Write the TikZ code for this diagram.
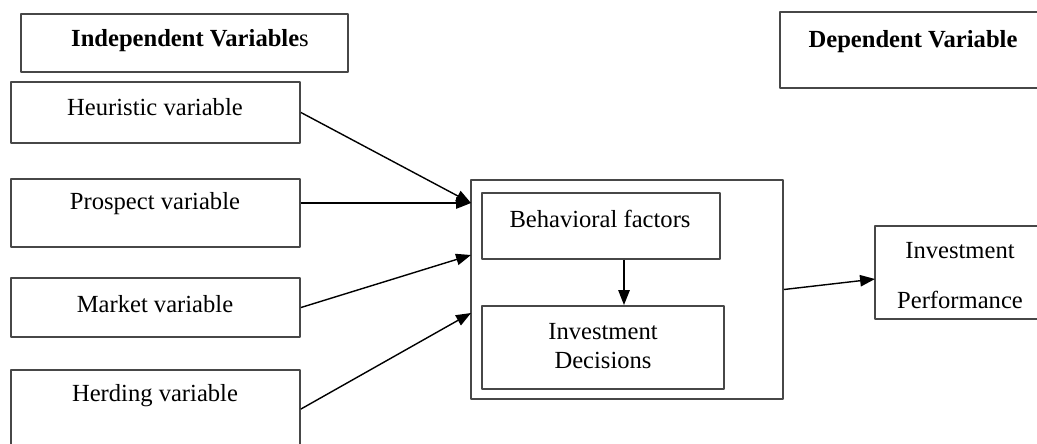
\documentclass[tikz,border=0pt]{standalone}
\usepackage{fontspec}
\setmainfont{Liberation Serif}
\usetikzlibrary{arrows.meta,fit}
\tikzset{
	box/.style={draw=black!72, line width=1.1pt, inner sep=0pt},
	lbl/.style={font=\fontsize{14}{16.5}\selectfont, inner sep=0pt, align=center},
}

\begin{document}
\begin{tikzpicture}[line join=round,>={Triangle[length=8.5pt,width=6.5pt]},x=0.02cm,y=-0.02cm]
	\useasboundingbox (0,0) rectangle (1037,443);
	\clip (0,0) rectangle (1037,443);
	% boxes
	\node[box,fit={(21,14) (348,72)}] (indep) {};
	\node[box,fit={(780,12) (1060,88)}] (dep) {};
	\node[box,fit={(11,82) (300,143)}] (heur) {};
	\node[box,fit={(11,179) (300,247)}] (prosp) {};
	\node[box,fit={(11,278) (300,337)}] (market) {};
	\node[box,fit={(11,370) (300,470)}] (herd) {};
	\node[box,fit={(471,180) (783,399)}] (big) {};
	\node[box,fit={(482,193) (720,259)}] (behav) {};
	\node[box,fit={(482,306) (724,389)}] (invdec) {};
	\node[box,fit={(875,226) (1060,319)}] (perf) {};
	% texts
	\node[lbl] (indeptxt) at (190,41) {\textbf{Independent Variable}s};
	\node[lbl] (deptxt) at (913,42) {\textbf{Dependent Variable}};
	\node[lbl] (heurtxt) at (155,107) {Heuristic variable};
	\node[lbl] (prosptxt) at (155,204) {Prospect variable};
	\node[lbl] (markettxt) at (155,304) {Market variable};
	\node[lbl] (herdtxt) at (155,396) {Herding variable};
	\node[lbl] (behavtxt) at (600,219) {Behavioral factors};
	\node[lbl] (invdectxt) at (603,346) {Investment\\Decisions};
	\node[lbl,font=\fontsize{14}{28.5}\selectfont] (perftxt) at (960,276) {Investment\\Performance};
	% arrow ends
	\path
	(471,203) coordinate (hin)
	(471,255) coordinate (min)
	(471,313) coordinate (din)
	(624,0) coordinate (mid)
	(875,279) coordinate (pin)
	;
	\draw[->,line width=0.8pt] (heur.east) -- (hin);
	\draw[->,line width=0.8pt] (prosp.east |- hin) -- (hin);
	\draw[->,line width=0.8pt] (market.east) -- (min);
	\draw[->,line width=0.8pt] (herd.east |- 0,409) -- (din);
	\draw[->,line width=0.8pt] (behav.south -| mid) -- (invdec.north -| mid);
	\draw[->,line width=0.8pt] (big.east) -- (pin);
\end{tikzpicture}
\end{document}
